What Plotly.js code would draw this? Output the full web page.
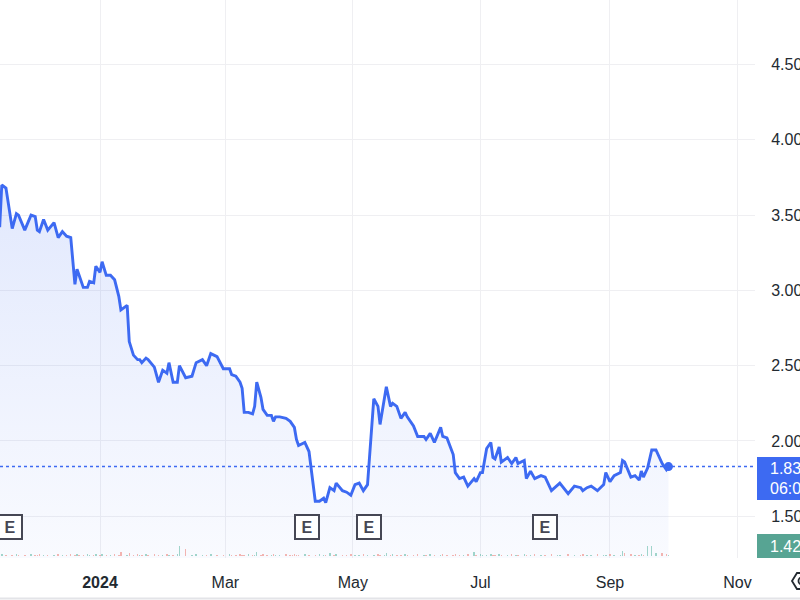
<!DOCTYPE html>
<html>
<head>
<meta charset="utf-8">
<script src="https://cdn.plot.ly/plotly-3.0.1.min.js"></script>
<style>
  html, body { margin: 0; padding: 0; background: #fff; }
  #chart { width: 800px; height: 600px; }
</style>
</head>
<body>
<div id="chart"></div>
<script>
  "use strict";

  const LINE_BLUE = "#3d6af2";
  const TEAL = "#57a493";
  const TEXT = "#232a31";
  const FONT = "Liberation Sans, Arial, sans-serif";

  // Daily closes.
  const dates = [
    "2023-11-14","2023-11-15","2023-11-17","2023-11-20","2023-11-22","2023-11-23","2023-11-26","2023-11-29","2023-12-01","2023-12-02",
    "2023-12-03","2023-12-05","2023-12-07","2023-12-10","2023-12-12","2023-12-14","2023-12-16","2023-12-18","2023-12-20","2023-12-21",
    "2023-12-22","2023-12-24","2023-12-26","2023-12-27","2023-12-29","2023-12-30","2024-01-01","2024-01-02","2024-01-04","2024-01-06",
    "2024-01-08","2024-01-10","2024-01-11","2024-01-14","2024-01-15","2024-01-17","2024-01-19","2024-01-20","2024-01-21","2024-01-23",
    "2024-01-24","2024-01-27","2024-01-29","2024-01-31","2024-02-02","2024-02-03","2024-02-05","2024-02-07","2024-02-08","2024-02-11",
    "2024-02-14","2024-02-16","2024-02-19","2024-02-21","2024-02-23","2024-02-26","2024-02-29","2024-03-03","2024-03-04","2024-03-06",
    "2024-03-08","2024-03-09","2024-03-10","2024-03-12","2024-03-14","2024-03-15","2024-03-16","2024-03-18","2024-03-19","2024-03-21",
    "2024-03-23","2024-03-24","2024-03-25","2024-03-27","2024-03-30","2024-04-01","2024-04-02","2024-04-03","2024-04-04","2024-04-05",
    "2024-04-08","2024-04-10","2024-04-13","2024-04-15","2024-04-17","2024-04-18","2024-04-20","2024-04-22","2024-04-23","2024-04-26",
    "2024-04-28","2024-04-30","2024-05-02","2024-05-04","2024-05-06","2024-05-08","2024-05-11","2024-05-13","2024-05-14","2024-05-16",
    "2024-05-17","2024-05-19","2024-05-20","2024-05-22","2024-05-24","2024-05-26","2024-05-27","2024-05-30","2024-06-01","2024-06-04",
    "2024-06-05","2024-06-07","2024-06-09","2024-06-12","2024-06-13","2024-06-15","2024-06-18","2024-06-19","2024-06-21","2024-06-23",
    "2024-06-25","2024-06-28","2024-06-29","2024-07-01","2024-07-02","2024-07-04","2024-07-06","2024-07-07","2024-07-08","2024-07-10",
    "2024-07-11","2024-07-14","2024-07-16","2024-07-18","2024-07-19","2024-07-22","2024-07-23","2024-07-25","2024-07-27","2024-07-30",
    "2024-08-01","2024-08-04","2024-08-07","2024-08-08","2024-08-12","2024-08-15","2024-08-18","2024-08-19","2024-08-21","2024-08-23",
    "2024-08-26","2024-08-29","2024-08-30","2024-09-01","2024-09-03","2024-09-06","2024-09-07","2024-09-08","2024-09-11","2024-09-13",
    "2024-09-15","2024-09-16","2024-09-17","2024-09-19","2024-09-21","2024-09-23","2024-09-26","2024-09-28","2024-09-29"
  ];

  const prices = [
    3.42,3.70,3.68,3.41,3.51,3.50,3.40,3.50,3.49,3.40,
    3.39,3.47,3.40,3.45,3.35,3.39,3.36,3.35,3.04,3.14,
    3.10,3.02,3.02,3.06,3.05,3.16,3.12,3.19,3.10,3.10,
    3.07,2.96,2.87,2.90,2.66,2.57,2.54,2.54,2.52,2.55,
    2.54,2.49,2.39,2.47,2.45,2.52,2.39,2.39,2.50,2.42,
    2.43,2.52,2.54,2.50,2.58,2.56,2.48,2.48,2.44,2.43,
    2.39,2.35,2.19,2.19,2.18,2.23,2.39,2.29,2.21,2.17,
    2.17,2.13,2.16,2.16,2.15,2.13,2.11,2.09,2.01,1.97,
    1.99,1.93,1.60,1.60,1.62,1.59,1.69,1.67,1.72,1.67,
    1.66,1.64,1.71,1.72,1.67,1.71,2.28,2.23,2.11,2.29,
    2.36,2.23,2.25,2.23,2.15,2.19,2.16,2.10,2.03,2.03,
    2.01,2.05,1.99,2.09,2.03,2.02,1.91,1.79,1.75,1.76,
    1.70,1.75,1.73,1.79,1.79,1.95,1.99,1.89,1.88,1.96,
    1.86,1.89,1.85,1.89,1.85,1.87,1.75,1.80,1.75,1.77,
    1.76,1.67,1.71,1.72,1.65,1.70,1.69,1.67,1.69,1.70,
    1.67,1.71,1.79,1.73,1.77,1.79,1.87,1.86,1.76,1.77,
    1.74,1.80,1.76,1.82,1.94,1.94,1.85,1.81,1.83
  ];

  // Relative volume (tiny bars along the bottom).
  const volumes = [
    1,2,1,1,2,1,1,2,1,1,
    2,1,1,1,2,1,1,2,1,2,
    1,1,2,1,1,2,1,2,1,1,
    2,1,4,1,3,1,2,1,1,2,
    1,2,1,1,2,1,1,2,10,7,
    1,2,1,1,2,1,1,2,1,1,
    2,1,1,2,1,1,4,1,2,1,
    1,2,1,1,2,1,1,2,1,1,
    2,1,1,2,1,1,3,1,2,1,
    1,2,1,1,2,1,1,2,1,1,
    3,1,2,1,1,2,1,1,2,1,
    1,2,1,1,2,1,1,2,1,1,
    2,4,1,2,1,1,2,1,1,2,
    1,1,2,1,1,2,1,1,2,1,
    1,2,1,1,2,1,1,2,1,1,
    2,1,1,2,1,1,5,3,2,1,
    1,2,1,10,10,3,3,2,1
  ];

  const earningsDates = ["2024-04-09 01:00", "2024-05-08 17:00", "2024-07-31 19:00"];

  const tickDates = ["2024-01-01","2024-03-01","2024-05-01","2024-07-01","2024-09-01","2024-11-01"];
  const tickText = ["<b>2024</b>","Mar","May","Jul","Sep","Nov"];
  const priceTicks = [1.5, 2.0, 2.5, 3.0, 3.5, 4.0, 4.5];

  const lastPrice = prices[prices.length - 1];
  const prevClose = "1.42";

  const volColors = volumes.map((v, i) =>
    i === 0 || prices[i] >= prices[i - 1] ? "rgba(87,181,160,0.55)" : "rgba(236,110,100,0.5)");

  const traces = [
    {
      type: "bar", x: dates, y: volumes, yaxis: "y2",
      width: 60480000,
      marker: { color: volColors, line: { width: 0 } },
      hoverinfo: "skip", showlegend: false,
    },
    {
      type: "scatter", mode: "lines", x: dates, y: prices,
      line: { color: LINE_BLUE, width: 2.9 },
      fill: "tozeroy",
      fillcolor: "rgba(61,106,242,0.08)",
      fillgradient: {
        type: "vertical", start: 1.2, stop: 3.7,
        colorscale: [[0, "rgba(61,106,242,0.03)"], [1, "rgba(61,106,242,0.15)"]],
      },
      hoverinfo: "skip", showlegend: false,
    },
    {
      type: "scatter", mode: "markers",
      x: [dates[dates.length - 1]], y: [lastPrice],
      marker: { color: LINE_BLUE, size: 9 },
      hoverinfo: "skip", showlegend: false,
    },
  ];

  const earnBox = (x, xref) => ({
    x, xref, y: 0.0323, yref: "paper",
    text: "<b>E</b>", showarrow: false,
    font: { family: FONT, size: 16, color: "#464754" },
    bgcolor: "#ffffff", bordercolor: "#464754", borderwidth: 2, borderpad: 2,
    width: 18, height: 18,
  });

  const sideText = (text, y) => ({
    x: 1.0172, xref: "paper", xanchor: "left",
    y, yref: "paper", yanchor: "middle",
    text, showarrow: false,
    font: { family: FONT, size: 16, color: "#ffffff" },
  });

  const layout = {
    width: 800, height: 600,
    margin: { l: 0, r: 45, t: 0, b: 42, pad: 0 },
    paper_bgcolor: "#ffffff", plot_bgcolor: "#ffffff",
    font: { family: FONT, color: TEXT, size: 16 },
    showlegend: false,
    bargap: 0,
    xaxis: {
      type: "date",
      range: ["2023-11-14 03:36", "2024-11-09 09:36"],
      tickvals: tickDates, ticktext: tickText,
      ticks: "outside", ticklen: 10, tickcolor: "rgba(0,0,0,0)",
      tickfont: { family: FONT, size: 16, color: TEXT },
      showgrid: true, gridcolor: "#efeff2", gridwidth: 1,
      zeroline: false, showline: false, fixedrange: true,
    },
    yaxis: {
      side: "right",
      range: [1.223, 4.928],
      tickvals: priceTicks, tickformat: ".2f",
      ticks: "outside", ticklen: 12, tickcolor: "rgba(0,0,0,0)",
      tickfont: { family: FONT, size: 16, color: TEXT },
      showgrid: true, gridcolor: "#efeff2", gridwidth: 1,
      zeroline: false, showline: false, fixedrange: true,
    },
    yaxis2: {
      overlaying: "y", range: [-2, 556],
      visible: false, fixedrange: true,
    },
    shapes: [
      // last-price dotted guide
      { type: "line", xref: "paper", x0: 0, x1: 1, yref: "y", y0: lastPrice, y1: lastPrice,
        line: { color: LINE_BLUE, width: 1.5, dash: "dot" } },
      // right-side price tags
      { type: "rect", xref: "paper", x0: 1.00265, x1: 1.1, yref: "paper", y0: 0.1039, y1: 0.181,
        fillcolor: LINE_BLUE, line: { width: 0 } },
      { type: "rect", xref: "paper", x0: 1.00265, x1: 1.1, yref: "paper", y0: 0, y1: 0.043,
        fillcolor: TEAL, line: { width: 0 } },
      // bottom separator
      { type: "line", xref: "paper", x0: -0.01, x1: 1.07, yref: "paper", y0: -0.0726, y1: -0.0726,
        line: { color: "#e3e4e8", width: 2 } },
      // settings icon, cut by the right edge
      { type: "path", xref: "paper", yref: "paper",
        path: "M 1.0490 -0.0412 L 1.0556 -0.0269 L 1.0689 -0.0269 L 1.0755 -0.0412 L 1.0689 -0.0556 L 1.0556 -0.0556 Z",
        line: { color: TEXT, width: 1.8 } },
      { type: "circle", xref: "paper", yref: "paper",
        x0: 1.0576, x1: 1.0669, y0: -0.0475, y1: -0.0349,
        line: { color: TEXT, width: 1.8 } },
    ],
    annotations: [
      earnBox(-0.004, "paper"),
      ...earningsDates.map((d) => earnBox(d, "x")),
      sideText(lastPrice.toFixed(2), 0.1595),
      sideText("06:00", 0.1237),
      sideText(prevClose, 0.0215),
    ],
  };

  Plotly.newPlot("chart", traces, layout, { staticPlot: true, displayModeBar: false });
</script>
</body>
</html>
